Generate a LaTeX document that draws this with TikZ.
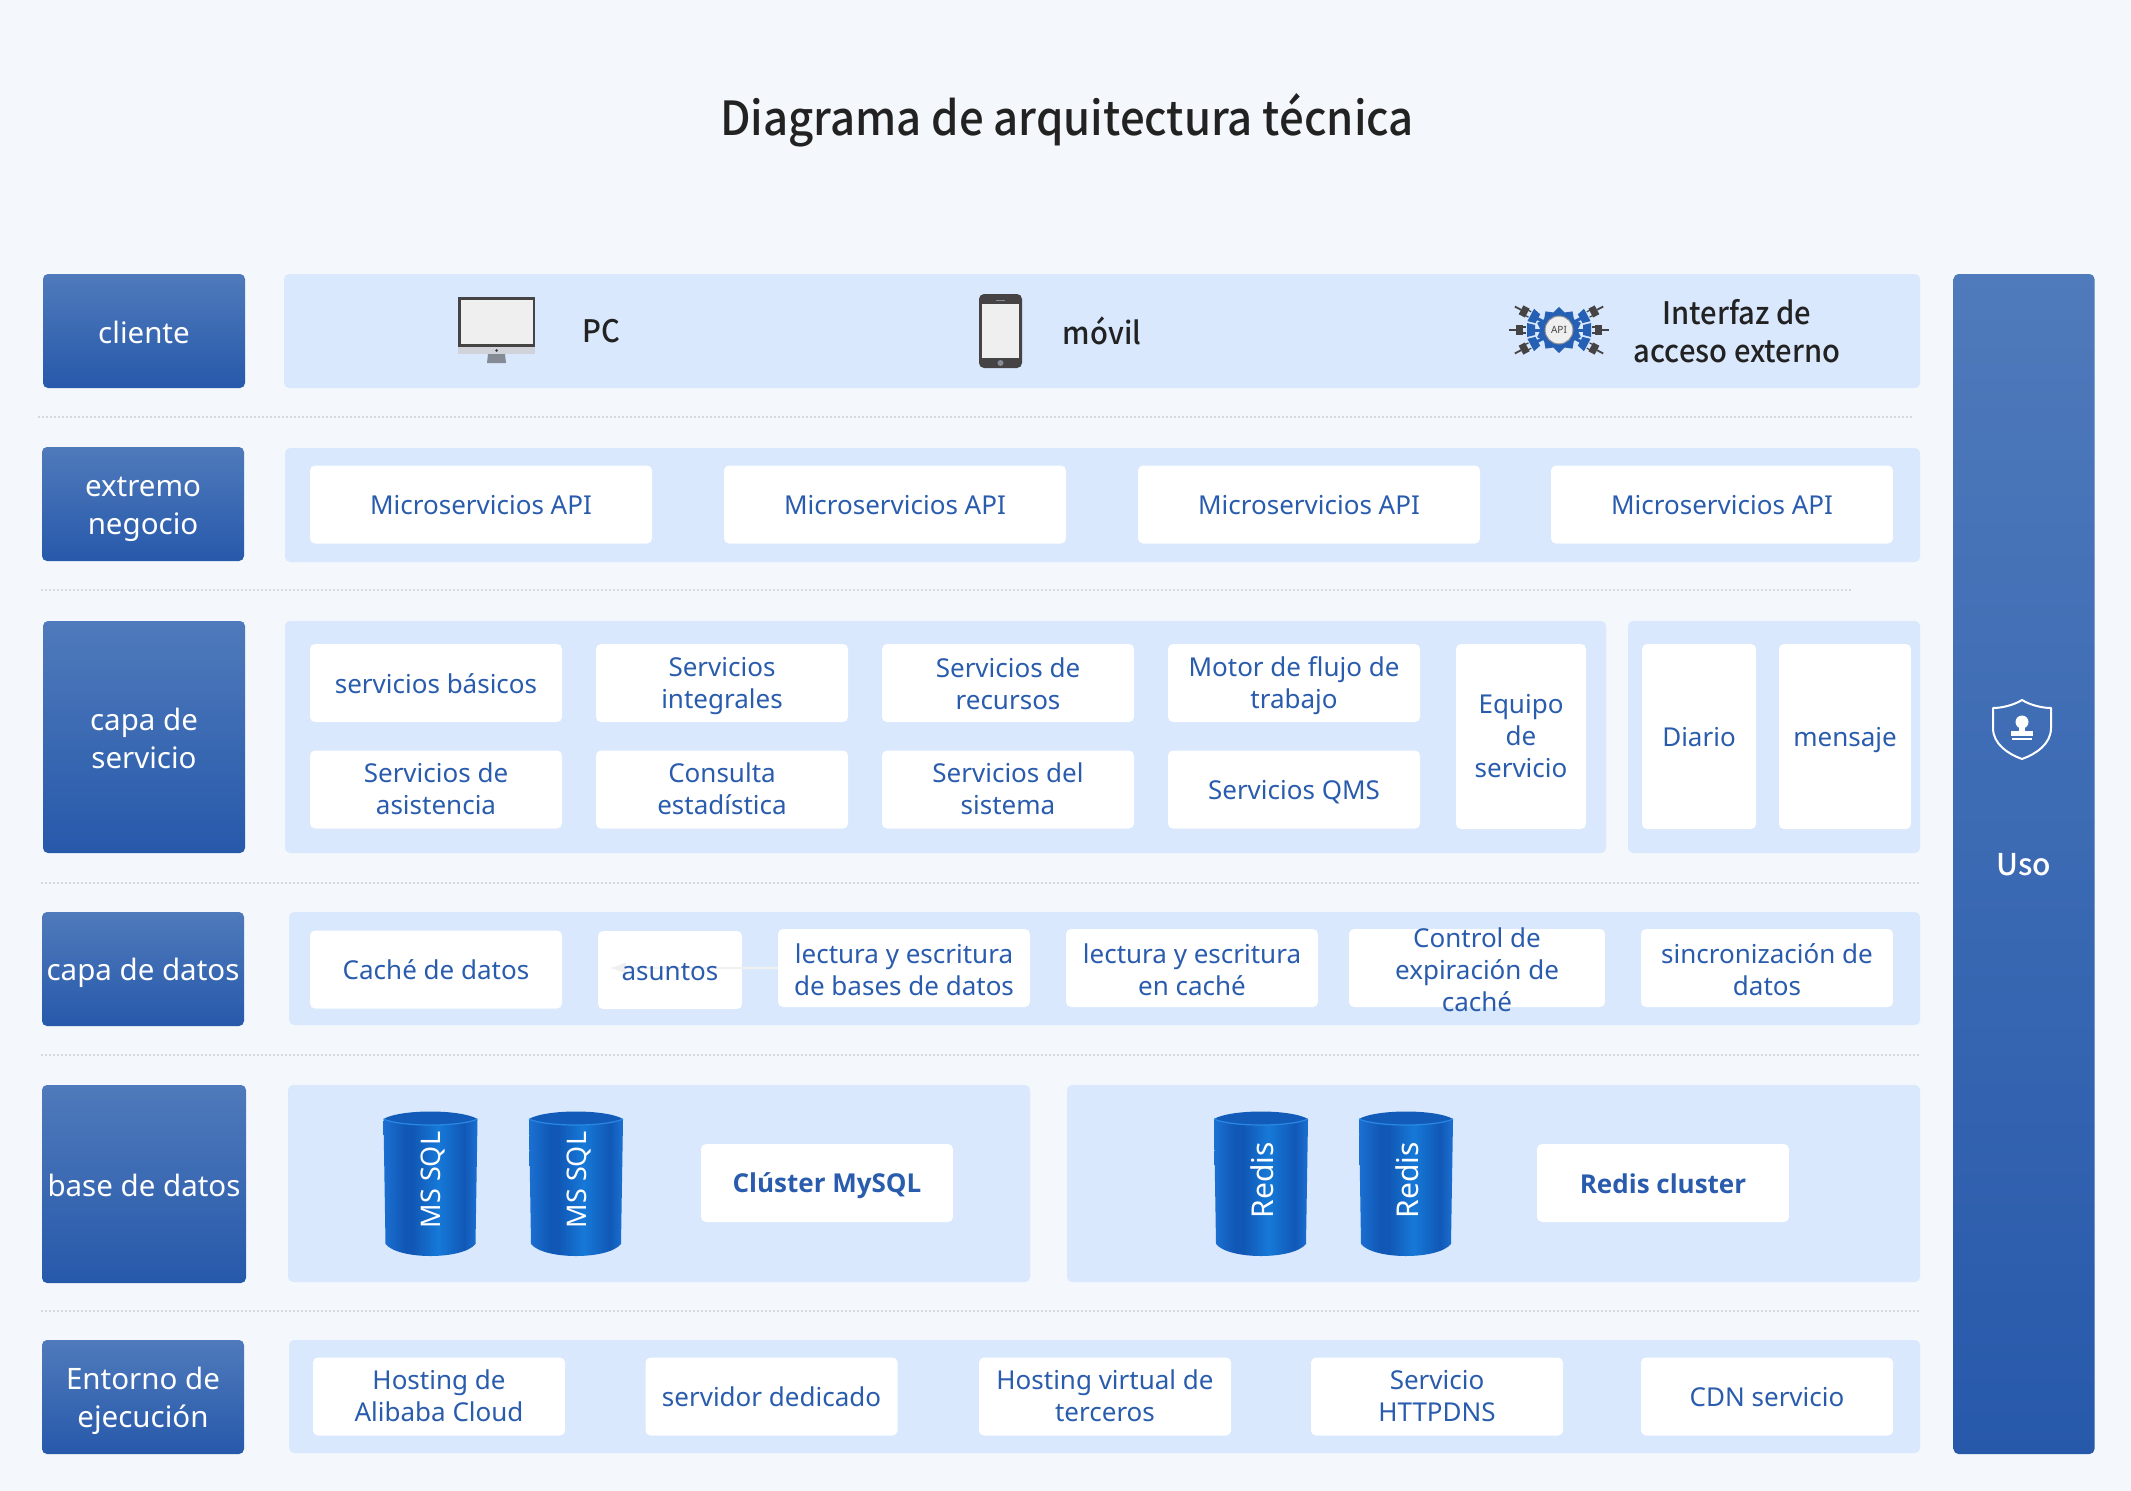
\documentclass[tikz,border=0pt]{standalone}
\usepackage{fontspec}
\usepackage{graphicx}
\usepackage{xcolor}
\usetikzlibrary{arrows.meta,shapes.geometric}
\setmainfont{Noto Sans}
\newfontfamily\strongfont{Open Sans}
\newfontfamily\headfont{Noto Sans CJK SC Medium}
\newfontfamily\darkfont[FakeStretch=0.94]{Noto Sans CJK SC Medium}
\definecolor{pageBg}{HTML}{F4F8FC}
\definecolor{panelBlue}{HTML}{D9E8FD}
\definecolor{sideTop}{HTML}{4F7ABB}
\definecolor{sideBottom}{HTML}{2759AB}
\definecolor{inkBlue}{HTML}{2A5CAD}
\definecolor{inkDark}{HTML}{222222}
\definecolor{dotGray}{HTML}{D3D9DF}
\definecolor{drumEdge}{HTML}{1B70D2}
\definecolor{drumDark}{HTML}{1158B6}
\definecolor{drumLight}{HTML}{1679D8}
\definecolor{drumLip}{HTML}{2A88E4}
\definecolor{iconDark}{HTML}{454343}
\definecolor{iconScreen}{HTML}{EFEFEF}
\definecolor{iconChin}{HTML}{D0D4DA}
\definecolor{iconStand}{HTML}{858B94}
\definecolor{gearBlue}{HTML}{2560B4}
\pgfdeclarehorizontalshading{drumshade}{100bp}{
  color(0bp)=(drumEdge); color(25bp)=(drumEdge); color(36bp)=(drumDark);
  color(41bp)=(drumDark); color(54bp)=(drumLight); color(68bp)=(drumDark);
  color(75bp)=(drumEdge); color(100bp)=(drumEdge)}
\newcommand{\sidestrut}{\rule[-7pt]{0pt}{38pt}}
\newcommand{\leafstrut}{\rule[-6pt]{0pt}{32pt}}

\begin{document}
\begin{tikzpicture}[
    x=1pt, y=-1pt,
    side/.style={rectangle, rounded corners=5pt, top color=sideTop, bottom color=sideBottom, text=white, align=center, minimum width=202, inner sep=0, font=\fontsize{29.5}{38}\selectfont, execute at begin node=\sidestrut, execute at end node=\sidestrut},
    panel/.style={rectangle, rounded corners=5pt, fill=panelBlue, inner sep=0},
    leaf/.style={rectangle, rounded corners=5pt, fill=white, text=inkBlue, align=center, inner sep=0, minimum height=78, font=\fontsize{26}{32}\selectfont, execute at begin node=\leafstrut, execute at end node=\leafstrut},
    apibox/.style={leaf, minimum width=342},
    midbox/.style={leaf, minimum width=252},
    tallbox/.style={leaf, minimum height=185},
    bigbox/.style={midbox, font=\strongfont\bfseries\fontsize{26}{32}\selectfont},
    overtext/.style={leaf, fill=none},
    drop/.style={execute at begin node={\rule{0pt}{#1}}},
    darktext/.style={text=inkDark, align=center, inner sep=0, font=\darkfont\fontsize{31}{38}\selectfont},
    faintarrow/.style={draw=black!6, line width=1.5pt, -{Latex[length=16pt,width=12pt]}},
    divider/.style={draw=dotGray, line width=2pt, dash pattern=on 2pt off 2pt},
    sqlshift/.style={every node/.append style={xshift=2pt}},
    drum/.pic={
      \shade[shading=drumshade] (-47,-64) -- (-45,60) .. controls (-32,76) and (32,76) .. (45,60) -- (47,-64) -- cycle;
      \fill[drumDark!90!drumLight] (-47,-65) .. controls (-30,-75) and (30,-75) .. (47,-65) .. controls (30,-57) and (-30,-57) .. (-47,-65) -- cycle;
      \draw[drumLip, line width=1.2pt] (-47,-65) .. controls (-30,-57) and (30,-57) .. (47,-65);
      \node[rotate=90, text=white, inner sep=0, font=\fontsize{30}{30}\selectfont] (-name) at (1,-4) {#1};
    },
    plug/.pic={
      \draw[gearBlue, line width=3pt] (12,0) -- (26,0);
      \fill[gearBlue] (24,-5) -- (32,-7) -- (32,7) -- (24,5) -- cycle;
      \draw[iconDark, line width=1.2pt] (33,-3) -- (37,-3) (33,3) -- (37,3);
      \fill[iconDark] (36,-5) rectangle (43,5);
      \draw[iconDark, line width=1.8pt] (43,0) -- (50,0);
    }
]

\useasboundingbox (0,0) rectangle (2131,1491);
\fill[pageBg] (0,0) rectangle (2131,1491);

% Title
\node[text=inkDark, inner sep=0, font=\headfont\fontsize{47}{50}\selectfont] (title) at (1067,120) {\scalebox{.93}[1]{Diagrama de arquitectura técnica}};

% Row labels
\node[side, minimum height=114] (cliente) at (144,331) {cliente};
\node[side, drop=69pt, minimum height=114] (extremo) at (143,504) {extremo\\negocio};
\node[side, drop=69pt, minimum height=232] (servicio) at (144,737) {capa de\\servicio};
\node[side, minimum height=114] (datos) at (143,969) {capa de datos};
\node[side, minimum height=198, minimum width=204] (base) at (144,1184) {base de datos};
\node[side, drop=69pt, minimum height=114] (entorno) at (143,1397) {Entorno de\\ejecución};

% Right bar
\node[side, minimum width=141, minimum height=1180] (uso) at (2024,864) {};
\node[text=white, inner sep=0, font=\headfont\fontsize{30}{30}\selectfont] (usoText) at (2024,865) {Uso};

% Panels
\node[panel, minimum width=1636, minimum height=114] (clientPanel) at (1102,331) {};
\node[panel, minimum width=1635, minimum height=114] (bizPanel) at (1102.5,505) {};
\node[panel, minimum width=1321, minimum height=232] (svcPanel) at (945.5,737) {};
\node[panel, minimum width=292, minimum height=232] (logPanel) at (1774,737) {};
\node[panel, minimum width=1631, minimum height=113] (dataPanel) at (1104.5,968.5) {};
\node[panel, minimum width=742, minimum height=197] (mysqlPanel) at (659,1183.5) {};
\node[panel, minimum width=853, minimum height=197] (redisPanel) at (1493.5,1183.5) {};
\node[panel, minimum width=1631, minimum height=113] (runPanel) at (1104.5,1396.5) {};

% Dotted dividers
\draw[divider] (38,417) -- (1914,417);
\draw[divider] (41,590) -- (1851,590);
\draw[divider] (41,883) -- (1919,883);
\draw[divider] (41,1055) -- (1919,1055);
\draw[divider] (41,1311) -- (1919,1311);

% Client row
\fill[iconDark] (458,297) rectangle (535,347);
\fill[iconScreen] (460.5,299.5) rectangle (532.5,343.5);
\fill[iconChin] (458,347) rectangle (535,354);
\fill[iconDark] (496.5,350.5) circle (1.5);
\fill[iconStand] (488,354) -- (505,354) -- (506,363) -- (487,363) -- cycle;
\node[darktext] (pc) at (601,331) {PC};
\fill[iconDark, rounded corners=5pt] (979,294) rectangle (1022,368);
\fill[iconScreen] (982,304) rectangle (1019,358);
\fill[iconStand] (1000.5,363) circle (3);
\draw[iconStand, line width=1pt] (996,300.5) -- (1005,300.5);
\node[darktext] (movil) at (1102,331) {móvil};
\node[star, star points=10, star point ratio=1.25, fill=gearBlue, inner sep=0, minimum size=46] (gear) at (1559,330) {};
\pic[rotate=0] at (gear.center) {plug};
\pic[rotate=28] at (gear.center) {plug};
\pic[rotate=152] at (gear.center) {plug};
\pic[rotate=180] at (gear.center) {plug};
\pic[rotate=208] at (gear.center) {plug};
\pic[rotate=332] at (gear.center) {plug};
\node[circle, draw=iconStand, line width=1pt, fill=iconScreen, text=iconDark, inner sep=0, minimum size=28, font=\fontsize{10}{10}\selectfont] (apiText) at (gear.center) {API};
\node[darktext] (interfaz) at (1737,331) {Interfaz de\\acceso externo};

% Business row
\node[apibox] (apiA) at (481,504.5) {Microservicios API};
\node[apibox] (apiB) at (895,504.5) {Microservicios API};
\node[apibox] (apiC) at (1309,504.5) {Microservicios API};
\node[apibox] (apiD) at (1722,504.5) {Microservicios API};

% Service row
\node[midbox] (basicos) at (436,683) {servicios básicos};
\node[midbox, drop=58pt] (integrales) at (722,683) {Servicios\\integrales};
\node[midbox, drop=58pt] (recursos) at (1008,683) {Servicios de\\recursos};
\node[midbox, drop=58pt] (motor) at (1294,683) {Motor de flujo de\\trabajo};
\node[midbox, drop=56pt] (asistencia) at (436,789.5) {Servicios de\\asistencia};
\node[midbox, drop=56pt] (consulta) at (722,789.5) {Consulta\\estadística};
\node[midbox, drop=56pt] (sistema) at (1008,789.5) {Servicios del\\sistema};
\node[midbox] (qms) at (1294,789.5) {Servicios QMS};
\node[tallbox, drop=88pt, minimum width=130] (equipo) at (1521,736.5) {Equipo\\de\\servicio};
\node[tallbox, minimum width=114] (diario) at (1699,736.5) {Diario};
\node[tallbox, minimum width=132] (mensaje) at (1845,736.5) {mensaje};

% Data row
\node[midbox] (cache) at (436,969.5) {Caché de datos};
\node[leaf, minimum width=144] (asuntos) at (670,970) {};
\node[midbox, drop=60pt] (lecturaDb) at (904,968) {lectura y escritura\\de bases de datos};
\node[midbox, drop=60pt] (lecturaCache) at (1192,968) {lectura y escritura\\en caché};
\node[leaf, minimum width=256] (control) at (1477,968) {};
\node[overtext, drop=92pt] (controlText) at (control) {Control de\\expiración de\\caché};
\node[midbox, drop=60pt] (sincro) at (1767,968) {sincronización de\\datos};
\coordinate (asuntosTip) at (610,968);
\draw[faintarrow] (lecturaDb.west) -- (asuntosTip);
\node[overtext] (asuntosText) at (asuntos) {asuntos};

% Database row
\pic[sqlshift] (sqlA) at (430.5,1184) {drum={\fontsize{27}{27}\selectfont MS SQL}};
\pic[sqlshift] (sqlB) at (576,1184) {drum={\fontsize{27}{27}\selectfont MS SQL}};
\node[bigbox] (mysql) at (827,1183) {Clúster MySQL};
\pic (redisA) at (1261,1184) {drum=Redis};
\pic (redisB) at (1406,1184) {drum=Redis};
\node[bigbox] (redisCluster) at (1663,1183) {Redis cluster};

% Runtime row
\node[midbox, drop=56pt] (alibaba) at (439,1396.5) {Hosting de\\Alibaba Cloud};
\node[midbox] (dedicado) at (771.5,1396.5) {servidor dedicado};
\node[midbox, drop=56pt] (terceros) at (1105,1396.5) {Hosting virtual de\\terceros};
\node[midbox, drop=56pt] (httpdns) at (1437,1396.5) {Servicio\\HTTPDNS};
\node[midbox] (cdn) at (1767,1396.5) {CDN servicio};

% Shield icon
\draw[white, line width=2pt, line join=round] (2022,700) .. controls (2030,705) and (2042,708) .. (2051,708) -- (2051,728) .. controls (2051,744) and (2036,754) .. (2022,759) .. controls (2008,754) and (1993,744) .. (1993,728) -- (1993,708) .. controls (2002,708) and (2014,705) .. (2022,700) -- cycle;
\fill[white] (2022,722) circle (6.5);
\fill[white] (2019,725) rectangle (2025,732);
\fill[white] (2011,731) rectangle (2033,735.5);
\fill[white] (2012,738) rectangle (2032,739.5);

\end{tikzpicture}
\end{document}
